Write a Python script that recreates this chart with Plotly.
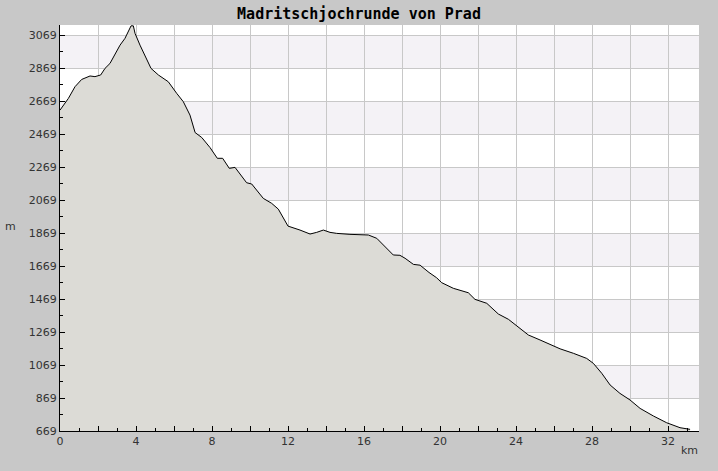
import plotly.graph_objects as go

km = [0.0, 0.44, 0.79, 1.14, 1.58, 1.84, 2.14, 2.37, 2.63, 2.89, 3.16, 3.42, 3.60, 3.74, 3.86,
      3.95, 4.21, 4.47, 4.79, 5.18, 5.70, 6.14, 6.49, 6.84, 7.11, 7.46, 7.72, 7.89, 8.28, 8.56,
      8.91, 9.21, 9.82, 10.09, 10.70, 11.14, 11.49, 12.0, 12.63, 13.16, 13.51, 13.86, 14.21,
      14.56, 15.26, 16.23, 16.67, 17.11, 17.54, 17.89, 18.16, 18.60, 18.95, 19.42, 19.82,
      20.09, 20.70, 21.49, 21.84, 22.46, 23.07, 23.60, 24.12, 24.65, 25.26, 25.79, 26.32,
      27.02, 27.72, 28.07, 28.51, 28.95, 29.47, 30.0, 30.53, 31.23, 31.93, 32.63, 33.16]
elev = [2614, 2685, 2756, 2800, 2821, 2817, 2827, 2867, 2897, 2948, 3008, 3049, 3089, 3125, 3125,
        3079, 3008, 2948, 2867, 2827, 2786, 2716, 2665, 2584, 2478, 2448, 2413, 2388, 2322, 2322,
        2261, 2267, 2174, 2166, 2079, 2049, 2014, 1911, 1887, 1863, 1873, 1887, 1873,
        1867, 1861, 1857, 1837, 1786, 1736, 1734, 1716, 1679, 1674, 1630, 1598,
        1568, 1534, 1507, 1467, 1443, 1378, 1346, 1297, 1251, 1221, 1196, 1167,
        1140, 1109, 1079, 1019, 948, 897, 857, 806, 760, 719, 689, 679]

x_ticks = [0, 2, 4, 6, 8, 10, 12, 14, 16, 18, 20, 22, 24, 26, 28, 30, 32]
x_labels = ["0", "", "4", "", "8", "", "12", "", "16", "", "20", "", "24", "", "28", "", "32"]
y_ticks = [669, 869, 1069, 1269, 1469, 1669, 1869, 2069, 2269, 2469, 2669, 2869, 3069]
band_pairs = [(869, 1069), (1269, 1469), (1669, 1869), (2069, 2269), (2469, 2669), (2869, 3069)]

fig = go.Figure()
fig.add_trace(go.Scatter(x=km, y=elev, mode="lines", fill="tozeroy",
                         fillcolor="#dcdbd6", line=dict(color="black", width=1),
                         hoverinfo="skip"))

shapes = []
for lo, hi in band_pairs:
    shapes.append(dict(type="rect", xref="paper", yref="y", x0=0, x1=1, y0=lo, y1=hi,
                       fillcolor="#f4f2f6", line=dict(width=0), layer="below"))

pw, ph = 718 - 60 - 19, 471 - 25 - 40
fig.update_layout(
    width=718, height=471,
    paper_bgcolor="#c8c8c8", plot_bgcolor="white",
    margin=dict(l=60, r=19, t=25, b=40),
    showlegend=False,
    shapes=shapes,
    title=dict(text="<b>Madritschjochrunde von Prad</b>", x=0.5, xanchor="center",
               y=1 - 14 / 471, yanchor="middle",
               font=dict(family="DejaVu Sans Mono", size=15, color="black")),
    font=dict(family="DejaVu Sans", size=11, color="#333333"),
    annotations=[
        dict(text="m", x=(10 - 60) / pw, y=(431 - 226) / ph, xref="paper", yref="paper",
             showarrow=False, xanchor="center", yanchor="middle"),
        dict(text="km", x=(689 - 60) / pw, y=(431 - 450) / ph, xref="paper", yref="paper",
             showarrow=False, xanchor="center", yanchor="middle"),
    ],
)

fig.update_xaxes(range=[0, 33.63], tickmode="array", tickvals=x_ticks, ticktext=x_labels,
                 ticks="inside", ticklen=5, tickcolor="black", showgrid=True,
                 gridcolor="#c8c8c8", gridwidth=1, showline=True, linecolor="black",
                 linewidth=1, zeroline=False,
                 minor=dict(tickmode="linear", tick0=0, dtick=1, ticks="inside", ticklen=3,
                            tickcolor="black", showgrid=False))
fig.update_yaxes(range=[669, 3130], tickmode="array", tickvals=y_ticks,
                 ticks="inside", ticklen=5, tickcolor="black", showgrid=True,
                 gridcolor="#c8c8c8", gridwidth=1, showline=True, linecolor="black",
                 linewidth=1, zeroline=False,
                 minor=dict(tickmode="linear", tick0=669, dtick=100, ticks="inside", ticklen=3,
                            tickcolor="black", showgrid=False))

fig.write_html("out.html", config={"displayModeBar": False},
               post_script="document.body.style.margin='0';document.body.style.overflow='hidden';document.body.style.background='#c8c8c8';")
